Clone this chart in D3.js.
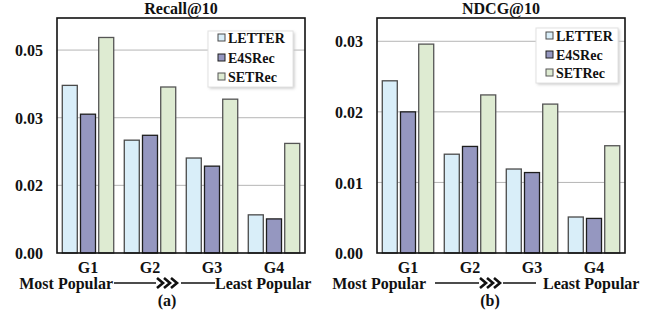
<!DOCTYPE html>
<html>
<head>
<meta charset="utf-8">
<script src="https://cdn.jsdelivr.net/npm/d3@7"></script>
<style>
  body { margin: 0; background: #fff; }
  text { font-family: "Liberation Serif", "Times New Roman", serif; font-weight: bold; fill: #111; }
</style>
</head>
<body>
<div id="vis-container"></div>
<script>
var groups = ["G1", "G2", "G3", "G4"];
var series = ["LETTER", "E4SRec", "SETRec"];

// Recall@10
var recallLetter = [0.0413, 0.0278, 0.0234, 0.0094];
var recallE4SRec = [0.0342, 0.0290, 0.0214, 0.0084];
var recallSETRec = [0.0531, 0.0409, 0.0379, 0.0270];
var recallTicks = [0, 0.01667, 0.03333, 0.05];
var recallTickLabels = ["0.00", "0.02", "0.03", "0.05"];

// NDCG@10
var ndcgLetter = [0.0244, 0.0140, 0.0119, 0.0051];
var ndcgE4SRec = [0.0200, 0.0151, 0.0114, 0.0049];
var ndcgSETRec = [0.0296, 0.0224, 0.0211, 0.0152];
var ndcgTicks = [0, 0.01, 0.02, 0.03];
var ndcgTickLabels = ["0.00", "0.01", "0.02", "0.03"];

var fills   = ["#d9eef9", "#9597c0", "#deebd2"];
var strokes = ["#4a4a4a", "#1e1e1e", "#555"];

var W = 667, H = 318;
var svg = d3.select("#vis-container").append("svg")
    .attr("width", W).attr("height", H);

var defs = svg.append("defs");
defs.append("filter").attr("id", "shadow")
    .attr("x", "-10%").attr("y", "-10%").attr("width", "130%").attr("height", "130%")
  .append("feGaussianBlur").attr("stdDeviation", 1.5);

var panels = [
  { title: "Recall@10", tag: "(a)", x0: 57, x1: 305, ymax: 0.0579,
    values: [recallLetter, recallE4SRec, recallSETRec],
    ticks: recallTicks, tickLabels: recallTickLabels,
    legend: { x: 208, y: 31, w: 85, h: 56, rowY: [43, 63, 82] },
    arrow: { mostEnd: 113, l1: [114, 156], chev: 157, l2: [181, 215], leastStart: 215 } },
  { title: "NDCG@10", tag: "(b)", x0: 377, x1: 625, ymax: 0.0333,
    values: [ndcgLetter, ndcgE4SRec, ndcgSETRec],
    ticks: ndcgTicks, tickLabels: ndcgTickLabels,
    legend: { x: 536, y: 28, w: 82, h: 55, rowY: [41, 60, 78] },
    arrow: { mostEnd: 426, l1: [435, 479], chev: 480, l2: [503, 536], leastStart: 543 } }
];

var plotTop = 18, plotBottom = 253;

panels.forEach(function(p) {
  var g = svg.append("g");

  var x = d3.scaleBand().domain(groups).range([p.x0, p.x1]).padding(0);
  var xs = d3.scaleBand().domain(series).range([0, x.bandwidth()])
      .paddingInner(0.176).paddingOuter(0.29);
  var y = d3.scaleLinear().domain([0, p.ymax]).range([plotBottom, plotTop]);

  // gridlines
  g.append("g").selectAll("line").data(p.ticks.slice(1)).enter().append("line")
      .attr("x1", p.x0).attr("x2", p.x1)
      .attr("y1", function(d) { return y(d); })
      .attr("y2", function(d) { return y(d); })
      .attr("stroke", "#b5b5b5").attr("stroke-width", 1);

  // y tick labels
  var yAxis = d3.axisLeft(y).tickValues(p.ticks)
      .tickFormat(function(d, i) { return p.tickLabels[i]; })
      .tickSize(0).tickPadding(14);
  var ya = g.append("g").attr("transform", "translate(" + p.x0 + ",0)").call(yAxis);
  ya.select(".domain").remove();
  ya.selectAll("text").attr("font-size", 16).attr("font-family", null)
      .attr("fill", "#111").attr("dy", "0.35em");

  // bars
  series.forEach(function(s, si) {
    g.append("g").selectAll("rect").data(p.values[si]).enter().append("rect")
        .attr("x", function(d, i) { return x(groups[i]) + xs(s); })
        .attr("y", function(d) { return y(d); })
        .attr("width", xs.bandwidth())
        .attr("height", function(d) { return plotBottom - y(d); })
        .attr("fill", fills[si])
        .attr("stroke", strokes[si])
        .attr("stroke-width", 1.3);
  });

  // frame
  g.append("rect").attr("x", p.x0).attr("y", plotTop)
      .attr("width", p.x1 - p.x0).attr("height", plotBottom - plotTop)
      .attr("fill", "none").attr("stroke", "#111").attr("stroke-width", 1.6);

  // x labels
  var xAxis = d3.axisBottom(x).tickSize(0).tickPadding(0);
  var xa = g.append("g").attr("transform", "translate(0," + plotBottom + ")").call(xAxis);
  xa.select(".domain").remove();
  xa.selectAll("text").attr("font-size", 16).attr("font-family", null)
      .attr("fill", "#111").attr("y", 20).attr("dy", 0);

  // title
  g.append("text").attr("x", (p.x0 + p.x1) / 2).attr("y", 13.5)
      .attr("text-anchor", "middle").attr("font-size", 16).text(p.title);

  // legend
  var L = p.legend;
  var lg = g.append("g");
  lg.append("rect").attr("x", L.x + 1.5).attr("y", L.y + 1.5)
      .attr("width", L.w).attr("height", L.h)
      .attr("fill", "#c8c8c8").attr("filter", "url(#shadow)");
  lg.append("rect").attr("x", L.x).attr("y", L.y)
      .attr("width", L.w).attr("height", L.h)
      .attr("fill", "#fff").attr("stroke", "#e2e2e2").attr("stroke-width", 1);
  series.forEach(function(s, si) {
    lg.append("rect").attr("x", L.x + 10).attr("y", L.rowY[si] - 9)
        .attr("width", 7).attr("height", 7)
        .attr("fill", fills[si]).attr("stroke", strokes[si]).attr("stroke-width", 1);
    lg.append("text").attr("x", L.x + 20).attr("y", L.rowY[si])
        .attr("font-size", 14).text(s);
  });

  // popularity arrow
  var A = p.arrow, ay = 283;
  g.append("text").attr("x", A.mostEnd).attr("y", 289)
      .attr("text-anchor", "end").attr("font-size", 16).text("Most Popular");
  g.append("text").attr("x", A.leastStart).attr("y", 289)
      .attr("text-anchor", "start").attr("font-size", 16).text("Least Popular");
  [A.l1, A.l2].forEach(function(l) {
    g.append("line").attr("x1", l[0]).attr("x2", l[1]).attr("y1", ay).attr("y2", ay)
        .attr("stroke", "#111").attr("stroke-width", 1.3);
  });
  [0, 7, 14].forEach(function(dx) {
    var cx = A.chev + dx;
    g.append("path")
        .attr("d", "M" + cx + "," + (ay - 5) + "L" + (cx + 6) + "," + ay + "L" + cx + "," + (ay + 5))
        .attr("fill", "none").attr("stroke", "#111").attr("stroke-width", 2.6);
  });

  g.append("text").attr("x", (A.chev + 10)).attr("y", 306)
      .attr("text-anchor", "middle").attr("font-size", 16).text(p.tag);
});
</script>
</body>
</html>
